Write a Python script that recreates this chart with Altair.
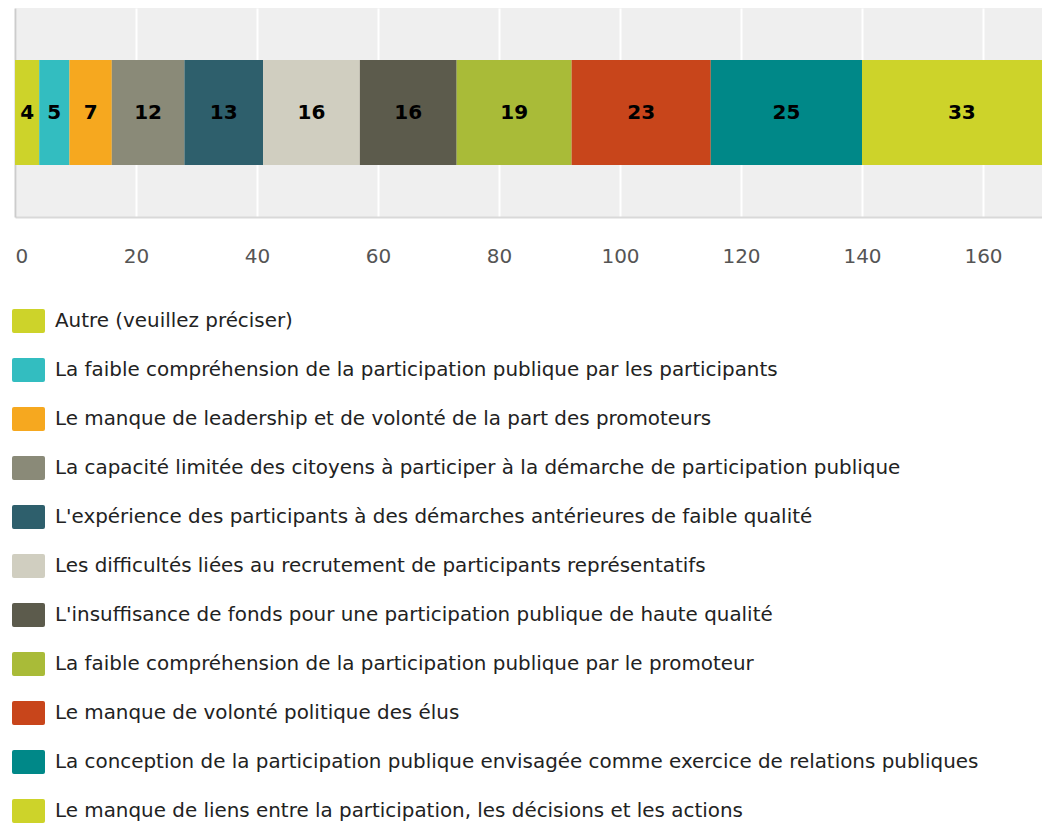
import altair as alt
import pandas as pd

categories = [
    "Autre (veuillez préciser)",
    "La faible compréhension de la participation publique par les participants",
    "Le manque de leadership et de volonté de la part des promoteurs",
    "La capacité limitée des citoyens à participer à la démarche de participation publique",
    "L'expérience des participants à des démarches antérieures de faible qualité",
    "Les difficultés liées au recrutement de participants représentatifs",
    "L'insuffisance de fonds pour une participation publique de haute qualité",
    "La faible compréhension de la participation publique par le promoteur",
    "Le manque de volonté politique des élus",
    "La conception de la participation publique envisagée comme exercice de relations publiques",
    "Le manque de liens entre la participation, les décisions et les actions",
]
values = [4, 5, 7, 12, 13, 16, 16, 19, 23, 25, 33]
colors = ["#cdd32a", "#33bdc0", "#f6a81f", "#8a8a78", "#2e5f6c", "#d0cec0",
          "#5c5b4c", "#a9bb38", "#c8451b", "#008888", "#cdd32a"]
tick_values = [0, 20, 40, 60, 80, 100, 120, 140, 160]

df = pd.DataFrame({
    "cat": categories,
    "value": values,
    "idx": list(range(len(categories))),
    "g": ["all"] * len(categories),
})

font = "DejaVu Sans"
legend_symbol = ("M-0.88,-0.727 H0.88 Q1,-0.727 1,-0.607 V0.607 Q1,0.727 0.88,0.727 "
                 "H-0.88 Q-1,0.727 -1,0.607 V-0.607 Q-1,-0.727 -0.88,-0.727 Z")

x_scale = alt.Scale(domain=[0, 169.75], nice=False, zero=True)

base = alt.Chart(df)

bars = base.mark_bar(size=105, clip=True).encode(
    x=alt.X("value:Q", stack="zero", scale=x_scale, title=None,
            axis=alt.Axis(values=tick_values, grid=True, gridColor="#ffffff", gridWidth=2,
                          ticks=False, tickSize=0, domain=True, domainColor="#d9d9d9",
                          domainWidth=2, labelFont=font, labelFontSize=20,
                          labelColor="#555555", labelPadding=29)),
    y=alt.Y("g:N", title=None,
            axis=alt.Axis(labels=False, ticks=False, grid=False, domain=True,
                          domainColor="#cccccc", domainWidth=2)),
    color=alt.Color("cat:N", sort=None,
                    scale=alt.Scale(domain=categories, range=colors),
                    legend=alt.Legend(orient="none", legendX=-3, legendY=296.5,
                                      direction="vertical", title=None,
                                      symbolType=legend_symbol, symbolSize=1089,
                                      symbolStrokeWidth=0, symbolOpacity=1,
                                      labelFont=font, labelFontSize=19.9,
                                      labelColor="#222222", labelOffset=10,
                                      rowPadding=20, padding=0, labelLimit=2000)),
    order=alt.Order("idx:Q", sort="ascending"),
)

labels = base.transform_window(
    cum="sum(value)", sort=[alt.SortField("idx", order="ascending")]
).transform_calculate(
    mid="datum.cum - datum.value / 2"
).mark_text(font=font, fontWeight="bold", fontSize=20, color="#000000", clip=True).encode(
    x=alt.X("mid:Q", scale=x_scale),
    y=alt.Y("g:N"),
    text=alt.Text("value:Q"),
)

chart = alt.layer(bars, labels).properties(
    width=1027,
    height=209,
    padding={"left": 15, "top": 8, "right": 0, "bottom": 611},
    autosize=alt.AutoSizeParams(type="none"),
).configure_view(
    fill="#efefef", stroke=None
)

chart.save("out.html", embed_options={"renderer": "svg", "actions": False})
